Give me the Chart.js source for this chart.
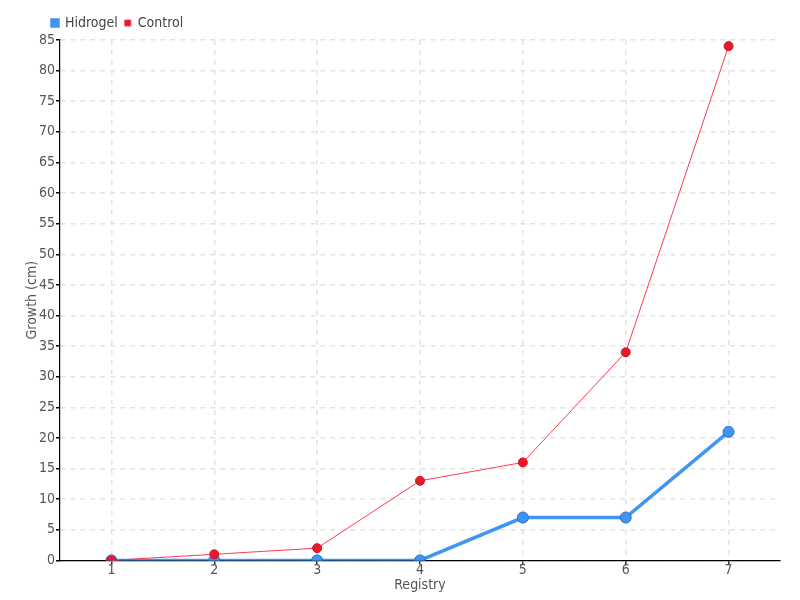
<!DOCTYPE html>
<html>
<head>
<meta charset="utf-8">
<script src="https://cdn.jsdelivr.net/npm/chart.js@4.4.1/dist/chart.umd.min.js"></script>
<style>
  html, body { margin: 0; padding: 0; background: #fff; }
  #wrap { width: 800px; height: 600px; }
</style>
</head>
<body>
<div id="wrap"><canvas id="growthChart"></canvas></div>
<script>
const registros = ['1', '2', '3', '4', '5', '6', '7'];
const hidrogel = [0, 0, 0, 0, 7, 7, 21];
const control = [0, 1, 2, 13, 16, 34, 84];

const fontFamily = '"DejaVu Sans Condensed", "Liberation Sans Narrow", "Liberation Sans", sans-serif';
Chart.defaults.font.family = fontFamily;
Chart.defaults.color = '#555';

// desloca a legenda para a direita, como no original
const legendShift = {
    id: 'legendShift',
    afterLayout(chart) {
        if (chart.legend) {
            chart.legend.left += 21;
        }
    }
};

const ctx = document.getElementById('growthChart').getContext('2d');
new Chart(ctx, {
    type: 'line',
    data: {
        labels: registros,
        datasets: [
            {
                label: 'Hidrogel',
                data: hidrogel,
                borderColor: '#3f95f3',
                backgroundColor: '#3f95f3',
                borderWidth: 3.5,
                pointRadius: 5.5,
                pointBorderWidth: 1,
                pointBorderColor: '#2a6fc4',
                pointBackgroundColor: '#3f95f3',
                tension: 0,
                order: 1
            },
            {
                label: 'Control',
                data: control,
                borderColor: '#ff3b4e',
                backgroundColor: '#e8192c',
                borderWidth: 1,
                pointRadius: 4.5,
                pointBorderWidth: 1,
                pointBorderColor: '#d4101f',
                pointBackgroundColor: '#e8192c',
                tension: 0,
                order: 0
            }
        ]
    },
    plugins: [legendShift],
    options: {
        responsive: true,
        maintainAspectRatio: false,
        animation: false,
        layout: { padding: { left: 24, right: 20, top: 9, bottom: 6 } },
        plugins: {
            legend: {
                position: 'top',
                align: 'start',
                labels: {
                    boxWidth: 6,
                    boxHeight: 6,
                    padding: 7,
                    color: '#444',
                    font: { size: 14 },
                    sort: (a, b) => a.datasetIndex - b.datasetIndex
                }
            },
            tooltip: { enabled: false }
        },
        scales: {
            x: {
                offset: true,
                title: { display: true, text: 'Registry', font: { size: 14 }, padding: 0 },
                grid: {
                    color: '#e3e3e3',
                    lineWidth: 1.5,
                    offset: false,
                    drawTicks: true,
                    tickLength: 4,
                    tickColor: '#333'
                },
                border: { color: '#000', width: 1.2, dash: [5, 5] },
                ticks: { font: { size: 14 }, padding: -2 }
            },
            y: {
                min: 0,
                max: 85,
                afterFit(scale) { scale.width = 36; },
                title: { display: true, text: 'Growth (cm)', font: { size: 14 }, padding: 0 },
                grid: { color: '#e3e3e3', lineWidth: 1.5, drawTicks: true, tickLength: 4, tickColor: '#000' },
                border: { color: '#000', width: 1.2, dash: [5, 5] },
                ticks: { stepSize: 5, font: { size: 14 }, padding: 1 }
            }
        }
    }
});
</script>
</body>
</html>
